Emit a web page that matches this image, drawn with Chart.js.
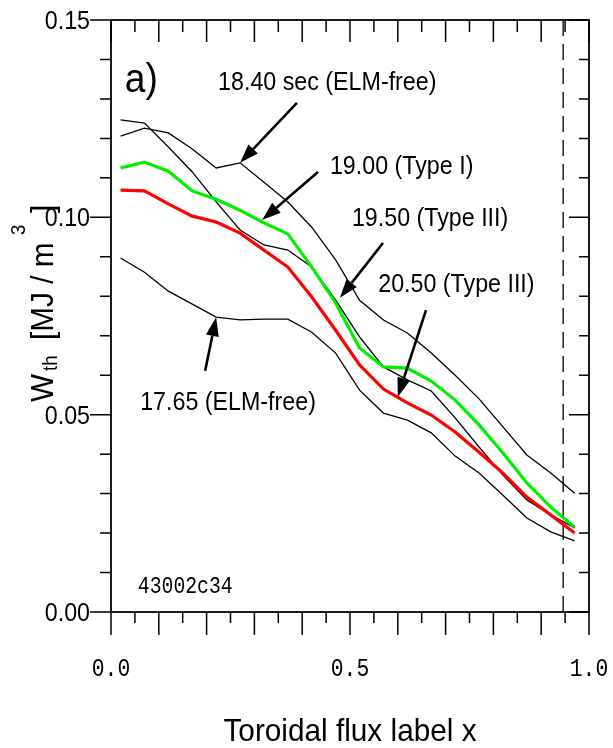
<!DOCTYPE html>
<html>
<head>
<meta charset="utf-8">
<script src="https://cdn.jsdelivr.net/npm/chart.js@4.4.1/dist/chart.umd.min.js"></script>
<style>
  html, body { margin: 0; padding: 0; background: #fff; }
  #wrap { width: 613px; height: 748px; }
</style>
</head>
<body>
<div id="wrap"><canvas id="wth" width="613" height="748"></canvas></div>
<script>
// toroidal flux label of the profile points
const xLabel = [0.02, 0.07, 0.12, 0.17, 0.22, 0.27, 0.32, 0.37, 0.42, 0.47,
                0.52, 0.57, 0.62, 0.67, 0.72, 0.77, 0.82, 0.87, 0.92, 0.97];

// W_th profiles [MJ/m^3] at the different times
const t1765 = [0.0897, 0.0861, 0.0813, 0.0780, 0.0747, 0.0740, 0.0742, 0.0742, 0.0709, 0.0656,
               0.0562, 0.0504, 0.0486, 0.0454, 0.0395, 0.0352, 0.0296, 0.0238, 0.0203, 0.0180];
const t1840 = [0.1206, 0.1226, 0.1214, 0.1173, 0.1125, 0.1138, 0.1089, 0.1039, 0.0975, 0.0892,
               0.0790, 0.0740, 0.0707, 0.0656, 0.0600, 0.0540, 0.0469, 0.0398, 0.0352, 0.0301];
const t1900 = [0.1125, 0.1140, 0.1117, 0.1067, 0.1046, 0.1018, 0.0986, 0.0958, 0.0874, 0.0783,
               0.0669, 0.0621, 0.0618, 0.0585, 0.0537, 0.0474, 0.0403, 0.0327, 0.0266, 0.0215];
const t1950 = [0.1247, 0.1239, 0.1178, 0.1115, 0.1039, 0.0968, 0.0930, 0.0917, 0.0874, 0.0790,
               0.0697, 0.0621, 0.0588, 0.0560, 0.0492, 0.0418, 0.0347, 0.0284, 0.0246, 0.0213];
const t2050 = [0.1069, 0.1067, 0.1034, 0.1003, 0.0988, 0.0960, 0.0917, 0.0874, 0.0798, 0.0714,
               0.0626, 0.0565, 0.0530, 0.0499, 0.0456, 0.0405, 0.0352, 0.0291, 0.0246, 0.0200];

const yTickLabels = ['0.00', '0.05', '0.10', '0.15'];
const yTickValues = [0.00, 0.05, 0.10, 0.15];
const xTickLabels = ['0.0', '0.5', '1.0'];
const xTickValues = [0.0, 0.5, 1.0];
const edgeX = 0.946; // dashed line

const SANS = 'Liberation Sans, Arial, sans-serif';
const MONO = 'Liberation Mono, Courier New, monospace';

function pts(ys) {
    return ys.map((y, i) => ({ x: xLabel[i], y: y }));
}

// labels + arrows, in data coordinates
const notes = [
    { text: '18.40 sec (ELM-free)', at: [0.224, 0.1323], from: [0.389, 0.1290], to: [xLabel[5], t1840[5]] },
    { text: '19.00 (Type I)', at: [0.458, 0.1110], from: [0.433, 0.1115], to: [0.316, 0.0993] },
    { text: '19.50 (Type III)', at: [0.504, 0.0978], from: [0.569, 0.0935], to: [0.479, 0.0796] },
    { text: '20.50 (Type III)', at: [0.559, 0.0811], from: [0.659, 0.0765], to: [0.600, 0.0545] },
    { text: '17.65 (ELM-free)', at: [0.061, 0.0512], from: [0.197, 0.0611], to: [xLabel[4], t1765[4]] }
];

function sText(ctx, s, x, y, font, align, base) {
    ctx.save();
    ctx.translate(x, y);
    ctx.scale(0.93, 1);
    ctx.font = font;
    ctx.textAlign = align || 'left';
    ctx.textBaseline = base || 'alphabetic';
    ctx.fillText(s, 0, 0);
    ctx.restore();
}

function arrow(ctx, x1, y1, x2, y2) {
    const a = Math.atan2(y2 - y1, x2 - x1);
    const len = 19, half = 6.5;
    const bx = x2 - len * Math.cos(a), by = y2 - len * Math.sin(a);
    ctx.beginPath();
    ctx.moveTo(x1, y1);
    ctx.lineTo(bx, by);
    ctx.lineWidth = 2.6;
    ctx.stroke();
    ctx.beginPath();
    ctx.moveTo(x2, y2);
    ctx.lineTo(bx + half * Math.sin(a), by - half * Math.cos(a));
    ctx.lineTo(bx - half * Math.sin(a), by + half * Math.cos(a));
    ctx.closePath();
    ctx.fill();
}

const frame = {
    id: 'frame',
    afterDraw(chart) {
        const ctx = chart.ctx;
        const xs = chart.scales.x, ys = chart.scales.y;
        const L = xs.left, R = xs.right, T = ys.top, B = ys.bottom;
        ctx.save();
        ctx.strokeStyle = '#000';
        ctx.fillStyle = '#000';

        // box
        ctx.lineWidth = 1.8;
        ctx.strokeRect(L, T, R - L, B - T);

        // x ticks: every 0.05, long every 0.1
        ctx.lineWidth = 1.5;
        for (let i = 0; i <= 20; i++) {
            const px = xs.getPixelForValue(i * 0.05);
            const big = i % 2 === 0;
            ctx.beginPath();
            ctx.moveTo(px, B); ctx.lineTo(px, B + (big ? 23 : 11));
            ctx.moveTo(px, T); ctx.lineTo(px, T + (big ? 22 : 12));
            ctx.stroke();
        }
        // y ticks: every 0.01, long every 0.05
        for (let i = 0; i <= 15; i++) {
            const py = ys.getPixelForValue(i * 0.01);
            const big = i % 5 === 0;
            ctx.beginPath();
            ctx.moveTo(L, py); ctx.lineTo(L - (big ? 21 : 11), py);
            ctx.moveTo(R, py); ctx.lineTo(R - (big ? 20 : 10), py);
            ctx.stroke();
        }

        // tick labels
        yTickValues.forEach((v, i) => {
            sText(ctx, yTickLabels[i], L - 21, ys.getPixelForValue(v) + 2, '25px ' + SANS, 'right', 'middle');
        });
        xTickValues.forEach((v, i) => {
            ctx.save();
            ctx.translate(xs.getPixelForValue(v), 676);
            ctx.scale(0.82, 1);
            ctx.font = '26px ' + MONO;
            ctx.textAlign = 'center';
            ctx.fillText(xTickLabels[i], 0, 0);
            ctx.restore();
        });

        // axis titles
        sText(ctx, 'Toroidal flux label x', (L + R) / 2, 741, '32px ' + SANS, 'center');

        const rt = (s, py, dx, font) => {
            ctx.save();
            ctx.translate(53 + dx, py);
            ctx.rotate(-Math.PI / 2);
            ctx.scale(0.93, 1);
            ctx.font = font;
            ctx.textAlign = 'left';
            ctx.fillText(s, 0, 0);
            ctx.restore();
        };
        rt('W', 402, 0, '32px ' + SANS);
        rt('th', 371, 4, '20px ' + SANS);
        rt('[MJ / m', 340, 0, '32px ' + SANS);
        rt('3', 235, -28, '20px ' + SANS);
        rt(']', 213, 0, '32px ' + SANS);

        // panel label, shot id
        sText(ctx, 'a)', xs.getPixelForValue(0.029), ys.getPixelForValue(0.1317), '40px ' + SANS);
        ctx.save();
        ctx.translate(xs.getPixelForValue(0.056), ys.getPixelForValue(0.0048));
        ctx.scale(0.86, 1);
        ctx.font = '23px ' + MONO;
        ctx.fillText('43002c34', 0, 0);
        ctx.restore();

        // annotations
        notes.forEach(n => {
            sText(ctx, n.text, xs.getPixelForValue(n.at[0]), ys.getPixelForValue(n.at[1]), '25px ' + SANS);
            arrow(ctx,
                xs.getPixelForValue(n.from[0]), ys.getPixelForValue(n.from[1]),
                xs.getPixelForValue(n.to[0]), ys.getPixelForValue(n.to[1]));
        });
        ctx.restore();
    }
};

const ctx = document.getElementById('wth').getContext('2d');
const chart = new Chart(ctx, {
    type: 'line',
    data: {
        datasets: [
            { label: '20.50', data: pts(t2050), borderColor: '#ff0000', borderWidth: 3.2 },
            { label: '19.00', data: pts(t1900), borderColor: '#00ee00', borderWidth: 3.2 },
            { label: '19.50', data: pts(t1950), borderColor: '#000', borderWidth: 1.3 },
            { label: '18.40', data: pts(t1840), borderColor: '#000', borderWidth: 1.3 },
            { label: '17.65', data: pts(t1765), borderColor: '#000', borderWidth: 1.3 },
            {
                label: 'edge',
                data: [{ x: edgeX, y: 0.15 }, { x: edgeX, y: 0 }],
                borderColor: '#222', borderWidth: 1.5, borderDash: [16, 8]
            }
        ]
    },
    options: {
        responsive: false,
        animation: false,
        layout: { padding: { left: 111, right: 24, top: 20, bottom: 136 } },
        elements: { point: { radius: 0 }, line: { tension: 0, fill: false } },
        plugins: { legend: { display: false }, tooltip: { enabled: false } },
        scales: {
            x: { type: 'linear', min: 0, max: 1, display: false },
            y: { type: 'linear', min: 0, max: 0.15, display: false }
        }
    },
    plugins: [frame]
});
</script>
</body>
</html>
